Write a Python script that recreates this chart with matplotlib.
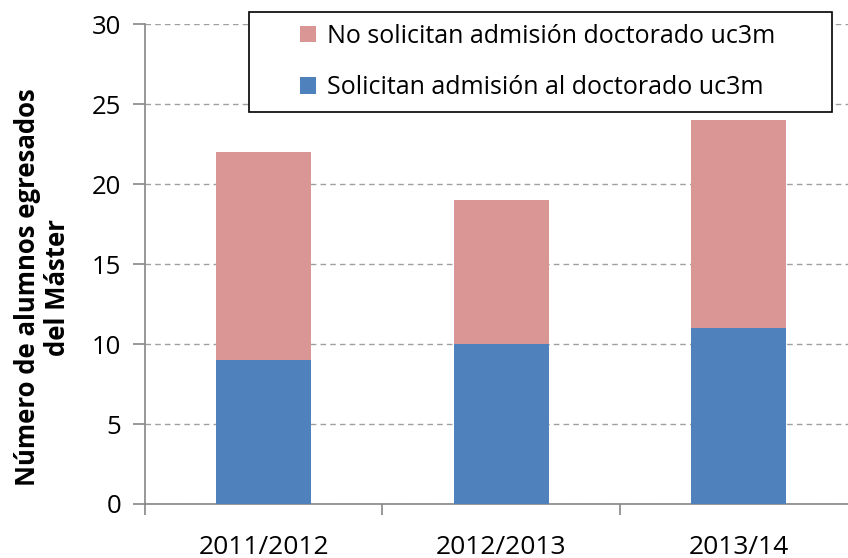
import matplotlib.pyplot as plt
from matplotlib.patches import Rectangle

plt.rcParams['font.family'] = ['Open Sans', 'DejaVu Sans']

cursos = ["2011/2012", "2012/2013", "2013/14"]
solicitan = [9, 10, 11]
no_solicitan = [13, 9, 13]
yticks = [0, 5, 10, 15, 20, 25, 30]

BLUE = "#4F81BD"
PINK = "#D99694"
AXIS = "#868686"

fig = plt.figure(figsize=(8.48, 5.58), dpi=100)
fig.patch.set_facecolor("white")
ax = fig.add_axes([0.171, 0.0968, 0.840, 0.860])

x = list(range(len(cursos)))
b1 = ax.bar(x, solicitan, width=0.4, color=BLUE, zorder=3,
            label="Solicitan admisión al doctorado uc3m")
b2 = ax.bar(x, no_solicitan, width=0.4, bottom=solicitan, color=PINK, zorder=3,
            label="No solicitan admisión doctorado uc3m")

ax.set_xlim(-0.5, len(cursos) - 0.5)
ax.set_ylim(0, 30)
ax.set_yticks(yticks)
ax.set_yticklabels([str(v) for v in yticks], fontsize=18.5)
ax.yaxis.grid(True, linestyle=(0, (4, 3)), color="#A0A0A0", linewidth=1.0, zorder=0)

# category ticks sit on the boundaries, labels centred
ax.set_xticks([i + 0.5 for i in range(-1, len(cursos))])
ax.set_xticklabels([])
ax.set_xticks(x, minor=True)
ax.set_xticklabels(cursos, minor=True, fontsize=19)
ax.tick_params(axis="x", which="minor", length=0, pad=22)
ax.tick_params(axis="x", which="major", length=8, color=AXIS, width=1.2)
ax.tick_params(axis="y", length=9, color=AXIS, width=1.2, pad=8)

for side in ["top", "right"]:
    ax.spines[side].set_visible(False)
for side in ["left", "bottom"]:
    ax.spines[side].set_color(AXIS)
    ax.spines[side].set_linewidth(1.2)

fig.text(0.050, 0.485, "Número de alumnos egresados\ndel Máster", rotation=90,
         ha="center", va="center", fontsize=18.5, fontweight="bold", linespacing=1.15)

# legend frame drawn separately so its size matches the reference
fig.patches.append(Rectangle((0.2936, 0.799), 0.6875, 0.1795, transform=fig.transFigure,
                             facecolor="white", edgecolor="black", linewidth=1.2, zorder=5))
leg = fig.legend([b2, b1], [b2.get_label(), b1.get_label()], loc="center left",
                 bbox_to_anchor=(0.327, 0.889), frameon=False, fontsize=18,
                 handlelength=0.65, handleheight=0.65, handletextpad=0.45,
                 labelspacing=1.05)
leg.set_zorder(6)

fig.savefig("out.png", dpi=100, facecolor="white")
